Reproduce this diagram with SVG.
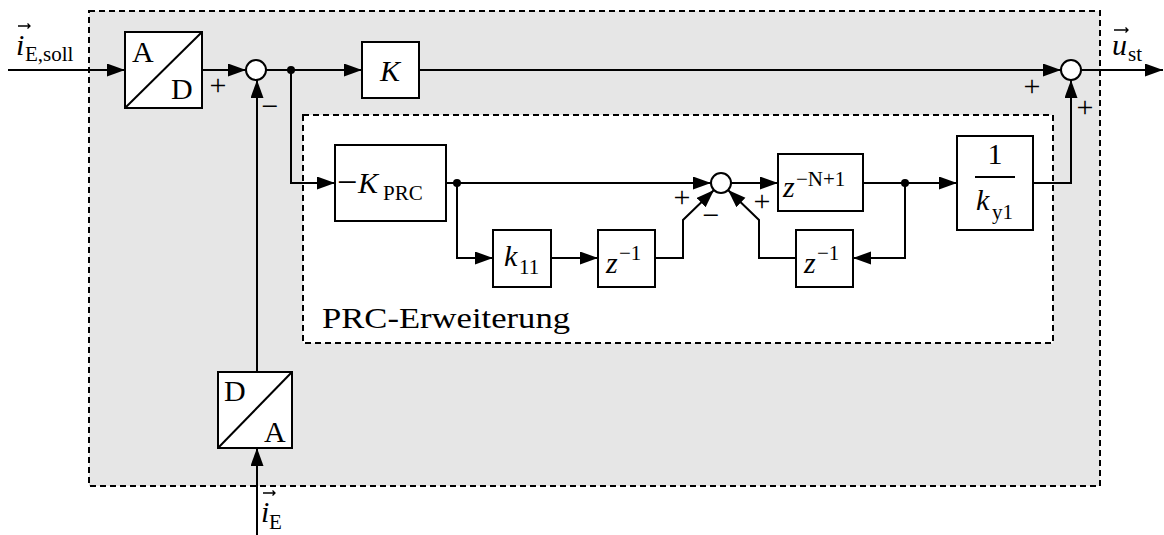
<svg xmlns="http://www.w3.org/2000/svg" width="1164" height="535" viewBox="0 0 1164 535">
<defs>
<marker id="ar" markerUnits="userSpaceOnUse" markerWidth="19" markerHeight="14" refX="18" refY="6.5" orient="auto">
<path d="M0,0 L18,6.5 L0,13 z" fill="#000"/>
</marker>
<style>
.blk{fill:#fff;stroke:#000;stroke-width:2}
.ln{fill:none;stroke:#000;stroke-width:2}
.ca{fill:none;stroke:#000;stroke-width:2;marker-end:url(#ar)}
.sum{fill:#fff;stroke:#000;stroke-width:2}
.dot{fill:#000}
.t{font-family:"Liberation Serif","DejaVu Serif",serif;font-size:30px;fill:#000}
.it{font-style:italic}
.sub{font-size:21px}
.sg{font-family:"Liberation Serif","DejaVu Serif",serif;font-size:30px;fill:#000;text-anchor:middle}
.vec{fill:none;stroke:#000;stroke-width:1.3}
</style>
</defs>
<rect id="outer" x="89" y="11" width="1011" height="475" fill="#e6e6e6" stroke="#000" stroke-width="2" stroke-dasharray="6 4"/>
<g id="prc-ext">
<rect x="303" y="115" width="750" height="228" fill="#fff" stroke="#000" stroke-width="2" stroke-dasharray="6 4"/>
<text class="t" x="322" y="328" textLength="248" lengthAdjust="spacingAndGlyphs">PRC-Erweiterung</text>
</g>
<g id="connectors">
<path class="ca" d="M8,70 H125"/>
<path class="ca" d="M202,70 H246"/>
<path class="ca" d="M266,70 H362"/>
<path class="ca" d="M419,70 H1061"/>
<path class="ca" d="M1081,70 H1163"/>
<path class="ca" d="M291,70 V183 H335"/>
<path class="ca" d="M446,183 H711"/>
<path class="ca" d="M457,183 V258 H493"/>
<path class="ca" d="M551,258 H598"/>
<path class="ca" d="M655,258 H683 V220 L714,190"/>
<path class="ca" d="M731,183 H778"/>
<path class="ca" d="M863,183 H957"/>
<path class="ca" d="M905,183 V258 H853"/>
<path class="ca" d="M796,258 H759 V220 L728,190"/>
<path class="ca" d="M1033,183 H1071 V80"/>
<path class="ca" d="M257,535 V448"/>
<path class="ca" d="M257,372 V80"/>
<circle class="dot" cx="291" cy="70" r="4"/>
<circle class="dot" cx="457" cy="183" r="4"/>
<circle class="dot" cx="905" cy="183" r="4"/>
</g>
<g id="ad">
<rect class="blk" x="125" y="32" width="77" height="76"/>
<path class="ln" d="M125,108 L202,32"/>
<text class="t" x="132" y="62">A</text>
<text class="t" x="171" y="99">D</text>
</g>
<g id="sum1"><circle class="sum" cx="256" cy="70" r="10"/></g>
<g id="k"><rect class="blk" x="362" y="42" width="57" height="56"/>
<text class="t it" x="390" y="81" text-anchor="middle">K</text></g>
<g id="sum2"><circle class="sum" cx="1071" cy="70" r="10"/></g>
<g id="kprc"><rect class="blk" x="335" y="145" width="111" height="76"/>
<text class="t" x="337" y="194" style="font-size:36px">−</text><text class="t it" x="358" y="193">K</text><text class="t sub" x="383" y="200">PRC</text></g>
<g id="k11"><rect class="blk" x="493" y="230" width="58" height="57"/>
<text class="t it" x="504" y="266">k</text><text class="t sub" x="519" y="274">11</text></g>
<g id="z1"><rect class="blk" x="598" y="230" width="57" height="57"/>
<text class="t it" x="606" y="273">z</text><text class="t sub" x="619" y="260">−1</text></g>
<g id="sum3"><circle class="sum" cx="721" cy="183" r="10"/></g>
<g id="zn"><rect class="blk" x="778" y="154" width="85" height="57"/>
<text class="t it" x="783" y="197">z</text><text class="t sub" x="796" y="186">−N+1</text></g>
<g id="z2"><rect class="blk" x="796" y="230" width="57" height="57"/>
<text class="t it" x="804" y="273">z</text><text class="t sub" x="817" y="260">−1</text></g>
<g id="ky"><rect class="blk" x="957" y="136" width="76" height="94"/>
<text class="t" x="995" y="164" text-anchor="middle">1</text>
<path class="ln" d="M975,177 H1015"/>
<text class="t it" x="976" y="210">k</text><text class="t sub" x="992" y="219">y1</text></g>
<g id="da"><rect class="blk" x="218" y="372" width="74" height="76"/>
<path class="ln" d="M218,448 L292,372"/>
<text class="t" x="224" y="401">D</text>
<text class="t" x="264" y="442">A</text>
</g>
<g id="labels">
<text class="t it" x="16" y="55">i</text><text class="t sub" x="25" y="61">E,soll</text>
<path class="vec" d="M18,26 H30 M27.5,23.5 L30,26 L27.5,28.5"/>
<text class="t it" x="1112" y="55">u</text><text class="t sub" x="1128" y="61">st</text>
<path class="vec" d="M1114,30 H1128 M1125.5,27.5 L1128,30 L1125.5,32.5"/>
<text class="t it" x="261" y="522">i</text><text class="t sub" x="269" y="529">E</text>
<path class="vec" d="M263,493 H275 M272.5,490.5 L275,493 L272.5,495.5"/>
<text class="sg" x="218" y="95">+</text>
<text class="sg" x="270" y="116">−</text>
<text class="sg" x="1032" y="96">+</text>
<text class="sg" x="1085" y="117">+</text>
<text class="sg" x="682" y="207">+</text>
<text class="sg" x="711" y="225">−</text>
<text class="sg" x="762" y="211">+</text>
</g>
</svg>
